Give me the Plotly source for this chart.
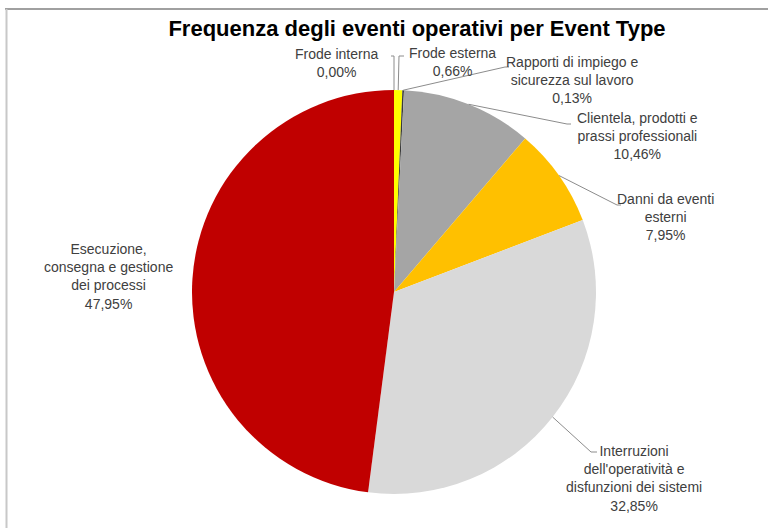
import math
import plotly.graph_objects as go

W, H = 768, 528

# slices clockwise from 12 o'clock
categories = [
    "Frode interna",
    "Frode esterna",
    "Rapporti di impiego e sicurezza sul lavoro",
    "Clientela, prodotti e prassi professionali",
    "Danni da eventi esterni",
    "Interruzioni dell'operatività e disfunzioni dei sistemi",
    "Esecuzione, consegna e gestione dei processi",
]
shares = [0.00, 0.66, 0.13, 10.46, 7.95, 32.85, 47.95]
label_text = [
    "Frode interna",
    "Frode esterna",
    "Rapporti di impiego e<br>sicurezza sul lavoro",
    "Clientela, prodotti e<br>prassi professionali",
    "Danni da eventi<br>esterni",
    "Interruzioni<br>dell'operatività e<br>disfunzioni dei sistemi",
    "Esecuzione,<br>consegna e gestione<br>dei processi",
]
colors = ["#4472C4", "#FFFF00", "#3A3A3A", "#A5A5A5", "#FFC000", "#D9D9D9", "#C00000"]

# pie placement (pixels)
cx, cy, r = 394, 292, 202

# label centre (px) and leader line elbow (px) per slice; None = no leader line
label_pos = [(336, 63), (452, 62), (572, 80), (637, 136), (665, 217), (634, 478), (108, 276)]
elbows = [[(394, 56), (391, 56)],
          [(399, 56), (404, 56)],
          [(505, 67), (509, 67)],
          [(567, 124), (571, 124)],
          [(617, 205), (621, 205)],
          [(591, 452), (597, 452)],
          None]

def px(x):
    return x / W

def py(y):
    return 1 - y / H

fig = go.Figure(go.Pie(
    labels=categories, values=shares, sort=False, direction="clockwise",
    rotation=0, marker=dict(colors=colors, line=dict(width=0)),
    textinfo="none", hoverinfo="label+percent", showlegend=False,
    domain=dict(x=[px(cx - r), px(cx + r)], y=[py(cy + r), py(cy - r)]),
))

annotations = []
shapes = []
total = sum(shares)
cum = 0.0
for i, v in enumerate(shares):
    mid = (cum + v / 2) / total * 2 * math.pi
    cum += v
    pct = f"{v:.2f}".replace(".", ",") + "%"
    lx, ly = label_pos[i]
    annotations.append(dict(
        x=px(lx), y=py(ly), xref="paper", yref="paper", showarrow=False,
        xanchor="center", yanchor="middle",
        text=label_text[i] + "<br>" + pct, align="center",
        font=dict(family="Liberation Sans, Arial", size=14, color="#404040"),
    ))
    if elbows[i]:
        pts = [(cx + r * math.sin(mid), cy - r * math.cos(mid))] + elbows[i]
        path = "M " + " L ".join(f"{px(x)},{py(y)}" for x, y in pts)
        shapes.append(dict(type="path", xref="paper", yref="paper", path=path,
                           line=dict(color="#8C8C8C", width=1)))

# outer frame lines
shapes.append(dict(type="line", xref="paper", yref="paper", x0=px(5), x1=1, y0=py(9), y1=py(9),
                   line=dict(color="#A0A0A0", width=2)))
shapes.append(dict(type="line", xref="paper", yref="paper", x0=px(6.5), x1=px(6.5), y0=py(9), y1=0,
                   line=dict(color="#C8C8C8", width=2)))

fig.update_layout(
    width=W, height=H, margin=dict(l=0, r=0, t=0, b=0),
    paper_bgcolor="white", plot_bgcolor="white",
    title=dict(text="<b>Frequenza degli eventi operativi per Event Type</b>",
               x=417 / W, xanchor="center", y=py(28), yanchor="middle",
               font=dict(family="Liberation Sans, Arial", size=22, color="black")),
    annotations=annotations, shapes=shapes,
)

fig.write_html("out.html", config={"displayModeBar": False},
               post_script="document.body.style.margin='0';")
